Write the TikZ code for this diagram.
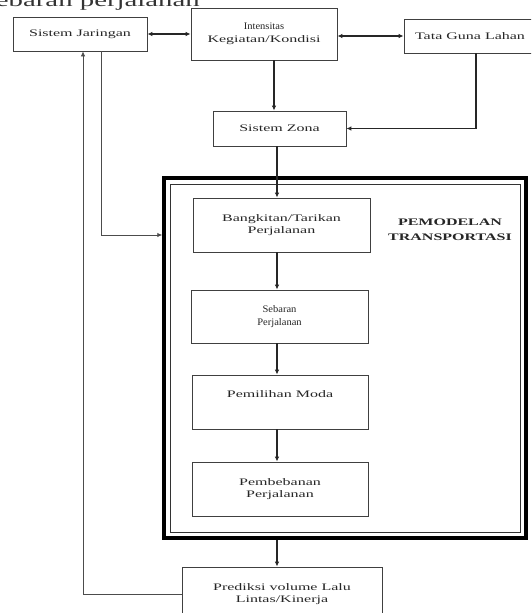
\documentclass[tikz,border=0pt]{standalone}
\usepackage{fontspec}
\setmainfont{Liberation Serif}
\newfontfamily\wf[FakeStretch=1.6]{Liberation Serif}
\newfontfamily\nf[FakeStretch=1.05]{Liberation Serif}
\newcommand\nfs[1]{{\nf\fontsize{10}{12.5}\selectfont #1}}
\usetikzlibrary{arrows.meta}
\tikzset{
  box/.style={draw=black!75, line width=0.8pt, inner sep=0pt, align=center,
    font=\wf\fontsize{10}{12.5}\selectfont, text=black!85},
  arr/.style={draw=black!85, line width=1.5pt, -{Latex[length=5pt,width=4.5pt]}},
  darr/.style={draw=black!85, line width=1.5pt, {Latex[length=5pt,width=4.5pt]}-{Latex[length=5pt,width=4.5pt]}},
  fb/.style={draw=black!70, line width=0.8pt, -{Latex[length=5pt,width=4.5pt]}},
}
\begin{document}
\begin{tikzpicture}[x=1pt,y=-1pt]
\clip (0,0) rectangle (531,613);
\fill[white] (0,0) rectangle (531,613);
% partial caption text at the top edge
\node[anchor=base east, inner sep=0pt, font=\wf\fontsize{18}{20}\selectfont, text=black!80] (cap) at (200,6) {sebaran perjalanan};
% top row
\node[box, minimum width=134pt, minimum height=34pt] (sj) at (80,34) {Sistem Jaringan};
\node[box, minimum width=146pt, minimum height=52pt] (ik) at (264,34) {\nfs{Intensitas}\\Kegiatan/Kondisi};
\node[box, minimum width=132pt, minimum height=34pt] (tgl) at (470,36) {Tata Guna Lahan};
\node[box, minimum width=133pt, minimum height=35pt] (sz) at (279.5,128.5) {Sistem Zona};
% big modelling frame
\node[draw=black, line width=3.5pt, minimum width=362pt, minimum height=360pt, inner sep=0pt] (big) at (345,358) {};
\node[draw=black!80, line width=0.8pt, minimum width=350pt, minimum height=348pt, inner sep=0pt] (bigin) at (345,358) {};
\node[align=center, inner sep=0pt, font=\wf\bfseries\fontsize{10}{15}\selectfont, text=black!85] (pm) at (450,230) {PEMODELAN\\TRANSPORTASI};
% chain
\node[box, minimum width=177pt, minimum height=54pt] (bt) at (281.5,225) {Bangkitan/Tarikan\\Perjalanan};
\node[box, minimum width=177pt, minimum height=53pt] (sb) at (279.5,316.5) {\nfs{Sebaran}\\\nfs{Perjalanan}};
\node[box, minimum width=176pt, minimum height=54pt] (pmd) at (280,402) {Pemilihan Moda\\\strut};
\node[box, minimum width=176pt, minimum height=54pt] (pb) at (280,489) {Pembebanan\\Perjalanan};
\node[box, minimum width=200pt, minimum height=54pt] (pr) at (282,594) {Prediksi volume Lalu\\Lintas/Kinerja};
% helper coordinates
\coordinate (col) at (277,0);
\coordinate (cik) at (274,0);
\coordinate (tz) at (476,0);
\coordinate (fb1) at (83,0);
\coordinate (fb2) at (101,235);
% connectors
\draw[darr] (sj.east) -- (ik.west);
\draw[darr] (ik.east |- tgl.west) -- (tgl.west);
\draw[arr] (ik.south -| cik) -- (sz.north -| cik);
\draw[arr] (tgl.south -| tz) |- (sz.east);
\draw[arr] (sz.south -| col) -- (bt.north -| col);
\draw[arr] (bt.south -| col) -- (sb.north -| col);
\draw[arr] (sb.south -| col) -- (pmd.north -| col);
\draw[arr] (pmd.south -| col) -- (pb.north -| col);
\draw[arr] (big.south -| col) -- (pr.north -| col);
\draw[fb] (pr.west) -| (sj.south -| fb1);
\draw[fb] (sj.south -| fb2) |- (big.west |- fb2);
\end{tikzpicture}
\end{document}
